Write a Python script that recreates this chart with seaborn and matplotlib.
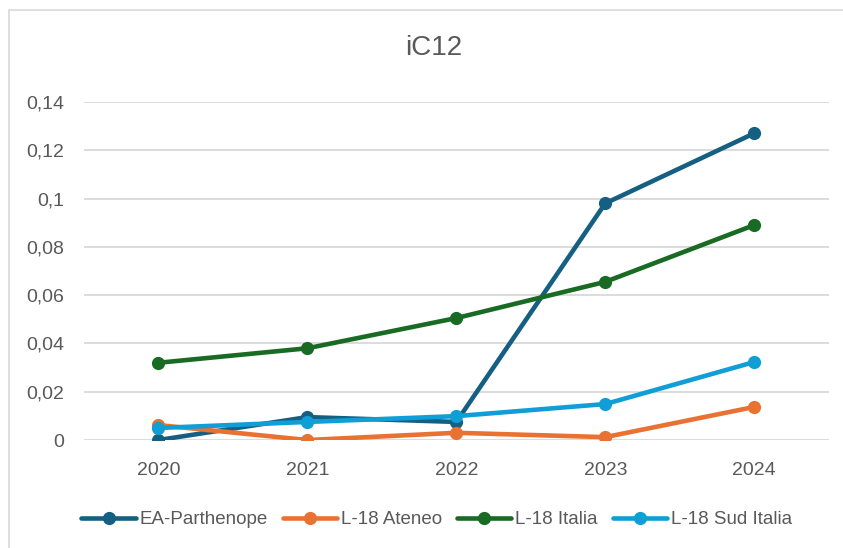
import pandas as pd
import matplotlib.pyplot as plt
import seaborn as sns
from matplotlib.patches import Rectangle
from matplotlib.ticker import FuncFormatter

years = ["2020", "2021", "2022", "2023", "2024"]
ea_parthenope = [0.0, 0.0095, 0.0075, 0.098, 0.127]
l18_ateneo = [0.0062, 0.0, 0.003, 0.0012, 0.0137]
l18_italia = [0.032, 0.038, 0.0505, 0.0655, 0.089]
l18_sud_italia = [0.005, 0.0075, 0.0099, 0.0149, 0.0323]

series_names = ["EA-Parthenope", "L-18 Ateneo", "L-18 Italia", "L-18 Sud Italia"]
colors = ["#156082", "#E97132", "#196B24", "#0F9ED5"]

df = pd.DataFrame({
    "year": years * 4,
    "value": ea_parthenope + l18_ateneo + l18_italia + l18_sud_italia,
    "series": [s for s in series_names for _ in years],
})

sns.set_style("white")
plt.rcParams["font.family"] = ["Liberation Sans", "DejaVu Sans"]
text_col = "#595959"
lw, ms = 3.3, 9.5

fig = plt.figure(figsize=(8.43, 5.48), dpi=100)
ax = fig.add_axes([0.0996, 0.197, 0.8834, 0.617])

sns.lineplot(data=df, x="year", y="value", hue="series", palette=colors,
             marker="o", markersize=ms, markeredgewidth=0, linewidth=lw,
             sort=False, ax=ax, legend=False)

ax.set_xlim(-0.5, 4.5)
ax.set_ylim(0, 0.14)
ax.set_yticks([0, 0.02, 0.04, 0.06, 0.08, 0.1, 0.12, 0.14])
ax.yaxis.set_major_formatter(FuncFormatter(lambda v, p: ("%g" % round(v, 2)).replace(".", ",")))
ax.grid(axis="y", color="#d9d9d9", linewidth=1.3)
ax.set_axisbelow(True)
for s in ax.spines.values():
    s.set_visible(False)
ax.tick_params(axis="both", length=0, labelsize=14, colors=text_col)
ax.tick_params(axis="x", pad=16)
ax.tick_params(axis="y", pad=14)
ax.set_xlabel("")
ax.set_ylabel("")

fig.text(0.514, 0.912, "iC12", ha="center", va="center", fontsize=20, color=text_col)

handles = [plt.Line2D([], [], color=c, marker="o", markersize=ms, linewidth=lw,
                      markeredgewidth=0) for c in colors]
fig.legend(handles, series_names, loc="center", bbox_to_anchor=(0.518, 0.052), ncol=4,
           frameon=False, fontsize=13.5, labelcolor=text_col, handlelength=2.9,
           handletextpad=0.2, columnspacing=0.8)

fig.patches.append(Rectangle((9 / 843, -0.05), 1.1, 1.05 - 10 / 548, transform=fig.transFigure,
                             fill=False, edgecolor="#d9d9d9", linewidth=1.2))

fig.savefig("out.png", dpi=100)
